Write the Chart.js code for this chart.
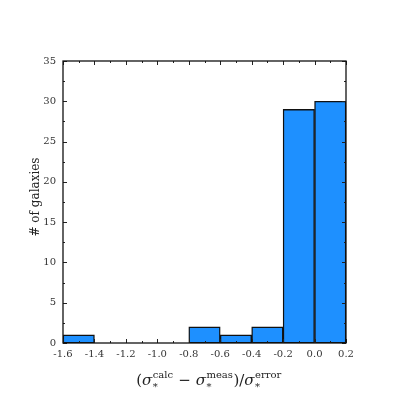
<!DOCTYPE html>
<html>
<head>
<meta charset="utf-8">
<script src="https://cdn.jsdelivr.net/npm/chart.js@4.4.0/dist/chart.umd.min.js"></script>
<style>
  html, body { margin: 0; padding: 0; background: #fff; }
  #wrap { width: 407px; height: 407px; }
</style>
</head>
<body>
<div id="wrap"><canvas id="histChart"></canvas></div>
<script>
// histogram bins (centres) and counts
const binCenters = [-1.5, -1.3, -1.1, -0.9, -0.7, -0.5, -0.3, -0.1, 0.1];
const counts = [1, 0, 0, 0, 2, 1, 2, 29, 30];
const xTicks = [-1.6, -1.4, -1.2, -1.0, -0.8, -0.6, -0.4, -0.2, 0.0, 0.2];
const yTicks = [0, 5, 10, 15, 20, 25, 30, 35];

const FONT = '"DejaVu Serif", serif';

// inward major/minor ticks on all four sides
const tickPlugin = {
    id: 'inwardTicks',
    afterDraw(chart) {
        const ctx = chart.ctx;
        const a = chart.chartArea;
        const xs = chart.scales.x, ys = chart.scales.y;
        ctx.save();
        ctx.strokeStyle = '#222';
        ctx.lineWidth = 1;
        const xMinor = [];
        for (let i = 0; i < xTicks.length - 1; i++) xMinor.push((xTicks[i] + xTicks[i + 1]) / 2);
        const yMinor = [];
        for (let i = 0; i < yTicks.length - 1; i++) yMinor.push((yTicks[i] + yTicks[i + 1]) / 2);
        function xt(v, len) {
            const p = Math.round(xs.getPixelForValue(v)) + 0.5;
            ctx.beginPath();
            ctx.moveTo(p, a.bottom); ctx.lineTo(p, a.bottom - len);
            ctx.moveTo(p, a.top); ctx.lineTo(p, a.top + len);
            ctx.stroke();
        }
        function yt(v, len) {
            const p = Math.round(ys.getPixelForValue(v)) + 0.5;
            ctx.beginPath();
            ctx.moveTo(a.left, p); ctx.lineTo(a.left + len, p);
            ctx.moveTo(a.right, p); ctx.lineTo(a.right - len, p);
            ctx.stroke();
        }
        xTicks.forEach(v => xt(v, 4));
        xMinor.forEach(v => xt(v, 2));
        yTicks.forEach(v => yt(v, 4));
        yMinor.forEach(v => yt(v, 2));

        // frame
        ctx.lineWidth = 1.3;
        ctx.strokeStyle = '#111';
        ctx.strokeRect(a.left, a.top, a.right - a.left, a.bottom - a.top);

        // y title
        ctx.fillStyle = '#222';
        ctx.font = '12px ' + FONT;
        ctx.textAlign = 'center';
        ctx.textBaseline = 'middle';
        ctx.translate(36, 197);
        ctx.rotate(-Math.PI / 2);
        ctx.fillText('# of galaxies', 0, 0);
        ctx.restore();

        // x title with super/subscripts
        ctx.save();
        ctx.fillStyle = '#222';
        ctx.textBaseline = 'alphabetic';
        ctx.textAlign = 'left';
        const big = '15px ' + FONT, bigIt = 'italic 15px ' + FONT, small = '10px ' + FONT;
        const parts = [
            { t: '(', f: big },
            { t: 'σ', f: bigIt },
            { sup: 'calc', sub: '*' },
            { t: ' − ', f: big },
            { t: 'σ', f: bigIt },
            { sup: 'meas', sub: '*' },
            { t: ')/', f: big },
            { t: 'σ', f: bigIt },
            { sup: 'error', sub: '*' }
        ];
        function w(p) {
            if (p.t) { ctx.font = p.f; return ctx.measureText(p.t).width; }
            ctx.font = small;
            return Math.max(ctx.measureText(p.sup).width, ctx.measureText(p.sub).width) + 1;
        }
        let total = 0;
        parts.forEach(p => total += w(p));
        let x = 209 - total / 2;
        const base = 385;
        parts.forEach(p => {
            const pw = w(p);
            if (p.t) {
                ctx.font = p.f;
                ctx.fillText(p.t, x, base);
            } else {
                ctx.font = small;
                ctx.fillText(p.sup, x + 0.5, base - 7);
                ctx.fillText(p.sub, x + 0.5, base + 5);
            }
            x += pw;
        });
        ctx.restore();
    }
};

new Chart(document.getElementById('histChart'), {
    type: 'bar',
    data: {
        datasets: [{
            label: 'galaxies',
            data: binCenters.map((c, i) => ({ x: c, y: counts[i] })),
            backgroundColor: '#1E90FF',
            borderColor: '#111',
            borderWidth: 1.4,
            borderSkipped: false,
            barPercentage: 1,
            categoryPercentage: 1,
            grouped: false
        }]
    },
    options: {
        responsive: true,
        maintainAspectRatio: false,
        animation: false,
        layout: { padding: 0 },
        plugins: { legend: { display: false }, tooltip: { enabled: false } },
        scales: {
            x: {
                type: 'linear',
                min: -1.6,
                max: 0.2,
                offset: false,
                afterBuildTicks: s => { s.ticks = xTicks.map(v => ({ value: v })); },
                afterFit: s => { s.height = 64; },
                grid: { display: false, drawTicks: false },
                border: { display: false },
                ticks: {
                    padding: 5,
                    color: '#333',
                    font: { family: FONT, size: 10 },
                    maxRotation: 0,
                    autoSkip: false,
                    callback: v => v.toFixed(1)
                }
            },
            x2: {
                type: 'linear',
                position: 'top',
                display: true,
                afterFit: s => { s.height = 61; },
                grid: { display: false, drawTicks: false },
                border: { display: false },
                ticks: { display: false }
            },
            y: {
                min: 0,
                max: 35,
                afterBuildTicks: s => { s.ticks = yTicks.map(v => ({ value: v })); },
                afterFit: s => { s.width = 63; },
                grid: { display: false, drawTicks: false },
                border: { display: false },
                ticks: {
                    padding: 7,
                    color: '#333',
                    font: { family: FONT, size: 10 },
                    callback: v => String(v)
                }
            },
            y2: {
                position: 'right',
                display: true,
                afterFit: s => { s.width = 61; },
                grid: { display: false, drawTicks: false },
                border: { display: false },
                ticks: { display: false }
            }
        }
    },
    plugins: [tickPlugin]
});
</script>
</body>
</html>
